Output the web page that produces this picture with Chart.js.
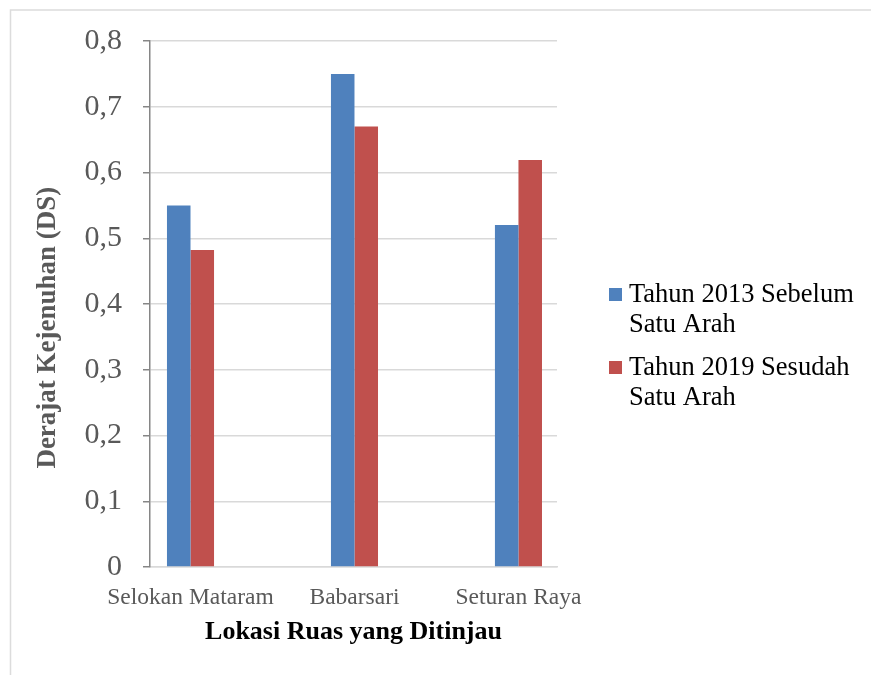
<!DOCTYPE html>
<html>
<head>
<meta charset="utf-8">
<script src="https://cdn.jsdelivr.net/npm/chart.js@4/dist/chart.umd.min.js"></script>
<style>
  html, body { margin: 0; padding: 0; background: #fff; }
  #wrap { width: 871px; height: 675px; position: relative; }
</style>
</head>
<body>
<div id="wrap"><canvas id="chart"></canvas></div>
<script>
const categories = ["Selokan Mataram", "Babarsari", "Seturan Raya"];
const seriesNames = ["Tahun 2013 Sebelum Satu Arah", "Tahun 2019 Sesudah Satu Arah"];
const before2013 = [0.55, 0.75, 0.52];
const after2019 = [0.482, 0.67, 0.619];
const yTicks = [0, 0.1, 0.2, 0.3, 0.4, 0.5, 0.6, 0.7, 0.8];
const colors = ["#4f81bd", "#c0504d"];

const serif = '"Liberation Serif", "Times New Roman", serif';
Chart.defaults.font.family = serif;

const fmt = v => v === 0 ? "0" : v.toFixed(1).replace(".", ",");

// frame around the figure (top + left edge visible)
const framePlugin = {
  id: "frame",
  beforeDraw(chart) {
    const ctx = chart.ctx;
    ctx.save();
    ctx.fillStyle = "#fff";
    ctx.fillRect(0, 0, chart.width, chart.height);
    ctx.strokeStyle = "#dcdcdc";
    ctx.lineWidth = 1.5;
    ctx.beginPath();
    ctx.moveTo(10.5, chart.height);
    ctx.lineTo(10.5, 10);
    ctx.lineTo(chart.width, 10);
    ctx.stroke();
    ctx.restore();
  }
};

// legend on the right with wrapped labels
const sideLegend = {
  id: "sideLegend",
  afterDraw(chart) {
    const ctx = chart.ctx;
    ctx.save();
    ctx.font = "26.5px " + serif;
    ctx.textBaseline = "middle";
    chart.data.datasets.forEach((ds, i) => {
      const top = 295 + i * 73;
      ctx.fillStyle = ds.backgroundColor;
      ctx.fillRect(609, top - 7, 13, 13);
      ctx.fillStyle = "#000";
      const words = ds.label.split(" ");
      const lines = [];
      let cur = "";
      words.forEach(w => {
        const t = cur ? cur + " " + w : w;
        if (ctx.measureText(t).width > 236 && cur) {
          lines.push(cur);
          cur = w;
        } else cur = t;
      });
      lines.push(cur);
      lines.forEach((ln, k) => ctx.fillText(ln, 629, top + k * 30));
    });
    ctx.restore();
  }
};

const datasets = [before2013, after2019].map((vals, i) => ({
  label: seriesNames[i],
  data: vals.map((v, k) => ({ x: k, y: v })),
  backgroundColor: colors[i],
  borderWidth: 0,
  categoryPercentage: 0.287,
  barPercentage: 1
}));

new Chart(document.getElementById("chart"), {
  type: "bar",
  data: { datasets },
  plugins: [framePlugin, sideLegend],
  options: {
    responsive: true,
    maintainAspectRatio: false,
    animation: false,
    layout: { padding: { left: 0, top: 41, right: 314, bottom: 0 } },
    plugins: {
      legend: { display: false },
      tooltip: { enabled: false }
    },
    scales: {
      x: {
        type: "linear",
        offset: false,
        min: -0.247,
        max: 2.235,
        afterBuildTicks: s => { s.ticks = categories.map((c, i) => ({ value: i })); },
        afterFit: s => { s.height = 108; },
        grid: { display: false, drawTicks: false },
        border: { color: "#d9d9d9", width: 1.5 },
        ticks: {
          autoSkip: false,
          maxRotation: 0,
          padding: 17,
          color: "#595959",
          font: { size: 23.5 },
          callback: v => categories[v]
        },
        title: {
          display: true,
          text: "Lokasi Ruas yang Ditinjau",
          color: "#000",
          font: { size: 26, weight: "bold" },
          padding: { top: 0, bottom: 27 }
        }
      },
      y: {
        min: 0,
        max: 0.8,
        afterBuildTicks: s => { s.ticks = yTicks.map(v => ({ value: v })); },
        afterFit: s => { s.width = 150; },
        grid: { color: "#d9d9d9", lineWidth: 1.5, tickColor: "#868686", tickLength: 7 },
        border: { color: "#868686", width: 1.5 },
        ticks: {
          padding: 21,
          color: "#595959",
          font: { size: 30 },
          callback: v => fmt(v)
        },
        title: {
          display: true,
          text: "Derajat Kejenuhan (DS)       ",
          color: "#595959",
          font: { size: 27, weight: "bold" },
          padding: { top: 32, bottom: 0 }
        }
      }
    }
  }
});
</script>
</body>
</html>
